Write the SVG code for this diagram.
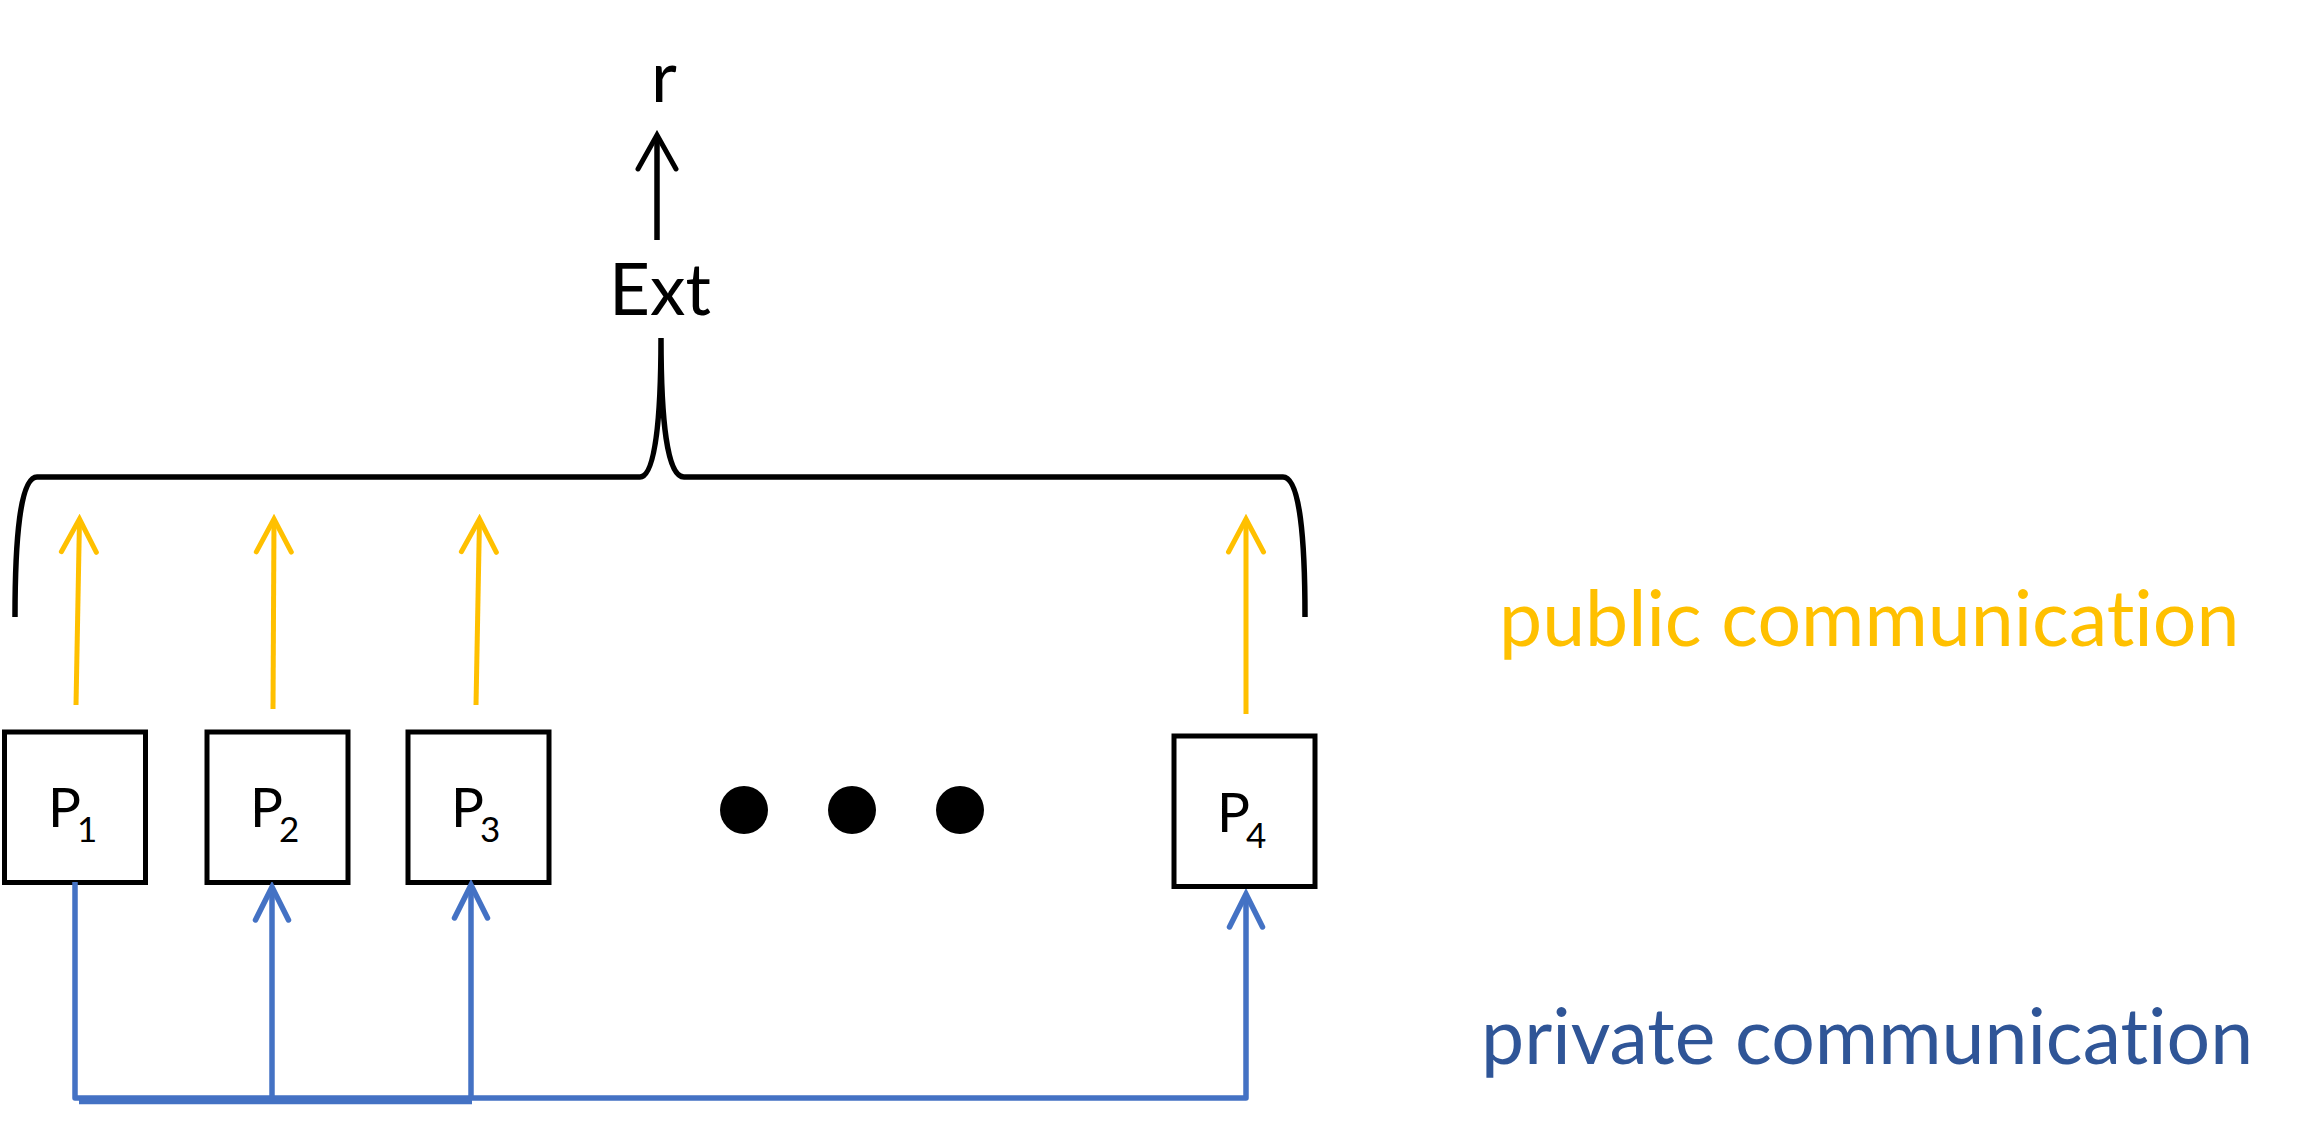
<svg xmlns="http://www.w3.org/2000/svg" width="2310" height="1141" viewBox="0 0 2310 1141">
  <style>
    text { font-family: Lato, "Open Sans", "Liberation Sans", sans-serif; font-variant-ligatures: none; }
    .box { fill: #FFFFFF; stroke: #000000; stroke-width: 5; }
    .lbl { font-size: 55px; fill: #000000; }
    .sub { font-size: 35px; }
    .dot { fill: #000000; }
    .pub { stroke: #FFC000; stroke-width: 5; fill: none; }
    .priv { stroke: #4472C4; stroke-width: 5.5; fill: none; stroke-linejoin: round; }
    .blk { stroke: #000000; stroke-width: 5.5; fill: none; }
  </style>
  <defs>
    <marker id="ahY" markerUnits="userSpaceOnUse" viewBox="-45 -25 50 50" refX="0" refY="0" markerWidth="50" markerHeight="50" orient="auto">
      <path d="M-33,-17.5 L0,0 L-33,17.5" fill="none" stroke="#FFC000" stroke-width="5" stroke-linecap="round"/>
    </marker>
    <marker id="ahB" markerUnits="userSpaceOnUse" viewBox="-45 -25 50 50" refX="0" refY="0" markerWidth="50" markerHeight="50" orient="auto">
      <path d="M-33,-16.5 L0,0 L-33,16.5" fill="none" stroke="#4472C4" stroke-width="5.5" stroke-linecap="round"/>
    </marker>
    <marker id="ahK" markerUnits="userSpaceOnUse" viewBox="-45 -25 50 50" refX="0" refY="0" markerWidth="50" markerHeight="50" orient="auto">
      <path d="M-34,-19 L0,0 L-34,19" fill="none" stroke="#000000" stroke-width="5" stroke-linecap="round"/>
    </marker>
  </defs>
  <rect width="2310" height="1141" fill="#FFFFFF"/>

  <g id="r-output">
    <text x="664" y="102" font-size="71" text-anchor="middle" fill="#000000">r</text>
  </g>
  <g id="ext">
    <text x="660" y="315" font-size="71" text-anchor="middle" fill="#000000">Ext</text>
    <path class="blk" d="M15,617 C15,540 20,477 37,477 L640,477 C655,477 661,420 661,338 C661,420 667,477 684,477 L1283,477 C1300,477 1305,540 1305,617"/>
  </g>

  <g id="p1">
    <rect class="box" x="4.5" y="732" width="141" height="150.5"/>
    <text class="lbl" x="48" y="827">P<tspan class="sub" x="77" y="842">1</tspan></text>
  </g>
  <g id="p2">
    <rect class="box" x="207" y="732" width="141" height="150.5"/>
    <text class="lbl" x="250" y="827">P<tspan class="sub" x="279" y="842">2</tspan></text>
  </g>
  <g id="p3">
    <rect class="box" x="408" y="732" width="141" height="150.5"/>
    <text class="lbl" x="451" y="827">P<tspan class="sub" x="480" y="842">3</tspan></text>
  </g>
  <g id="ellipsis">
    <circle class="dot" cx="744" cy="810" r="24"/>
    <circle class="dot" cx="852" cy="810" r="24"/>
    <circle class="dot" cx="960" cy="810" r="24"/>
  </g>
  <g id="p4">
    <rect class="box" x="1174" y="736" width="141" height="150.5"/>
    <text class="lbl" x="1217" y="832">P<tspan class="sub" x="1246" y="848">4</tspan></text>
  </g>

  <g id="legend">
    <text x="1499" y="646" font-size="77" fill="#FFC000">public communication</text>
    <text x="1481" y="1064" font-size="77" fill="#2F5597">private communication</text>
  </g>

  <g id="connectors">
    <line class="blk" x1="657" y1="240" x2="657" y2="135" marker-end="url(#ahK)"/>
    <line class="pub" x1="76" y1="705" x2="79.5" y2="519" marker-end="url(#ahY)"/>
    <line class="pub" x1="273" y1="709" x2="274" y2="519" marker-end="url(#ahY)"/>
    <line class="pub" x1="476" y1="705" x2="479.5" y2="519" marker-end="url(#ahY)"/>
    <line class="pub" x1="1246" y1="714" x2="1246" y2="519" marker-end="url(#ahY)"/>
    <polyline class="priv" points="75,882 75,1098 1246,1098 1246,894" marker-end="url(#ahB)"/>
    <line class="priv" x1="272" y1="1098" x2="272" y2="887" marker-end="url(#ahB)"/>
    <line class="priv" x1="471" y1="1098" x2="471" y2="885" marker-end="url(#ahB)"/>
    <line class="priv" x1="79" y1="1101.5" x2="472" y2="1101.5"/>
  </g>
</svg>
